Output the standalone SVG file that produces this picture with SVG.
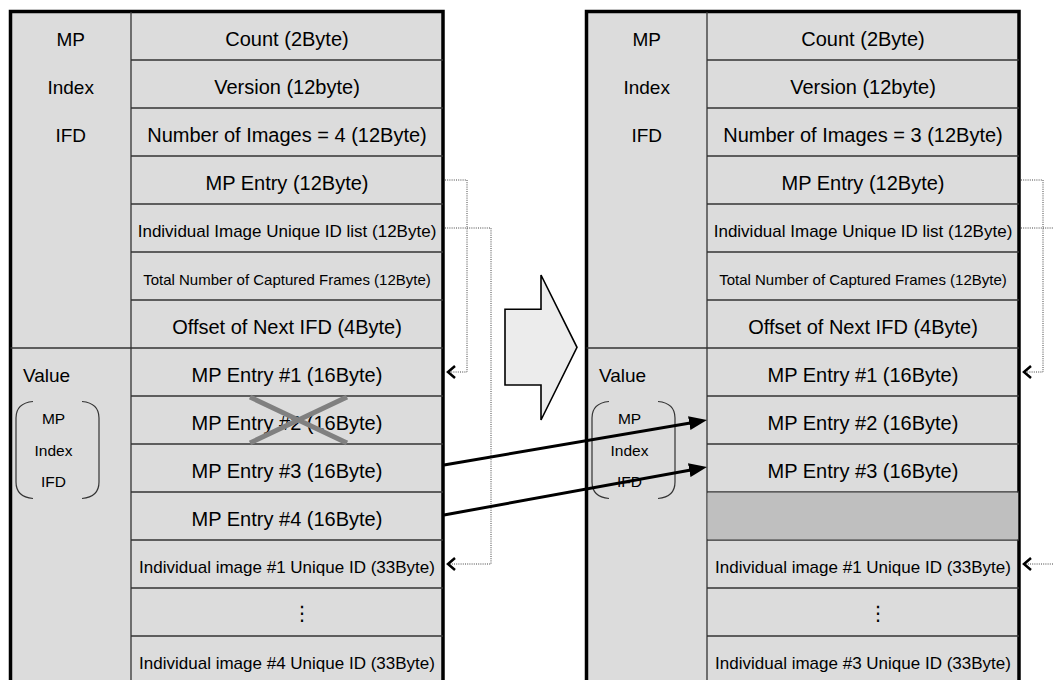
<svg xmlns="http://www.w3.org/2000/svg" width="1054" height="680" viewBox="0 0 1054 680">
<style>
text{font-family:"Liberation Sans",Arial,sans-serif;fill:#000}
.big{font-size:20px;text-anchor:middle}
.mid{font-size:17px;text-anchor:middle}
.sm{font-size:15px;text-anchor:middle}
.lab{font-size:19px;text-anchor:middle}
.blab{font-size:15.5px;text-anchor:middle}
.dots{font-family:"DejaVu Sans",sans-serif;font-size:20px;text-anchor:middle}
.outer{fill:#dcdcdc;stroke:#000;stroke-width:3.5}
.rl{stroke:#333;stroke-width:1.3;fill:none}
.br{stroke:#333;stroke-width:1.2;fill:none}
.dot{stroke:#444;stroke-width:1;stroke-dasharray:1 1.2;fill:none}
.mv{stroke:#000;stroke-width:3;fill:none}
</style>
<defs>
<marker id="chev" markerUnits="userSpaceOnUse" markerWidth="14" markerHeight="16" viewBox="-11 -8 14 16" refX="0" refY="0" orient="auto">
<path d="M-7,-6 L0,0 L-7,6" fill="none" stroke="#000" stroke-width="2.5"/>
</marker>
<marker id="head" markerUnits="userSpaceOnUse" markerWidth="18" markerHeight="14" viewBox="0 0 18 14" refX="10" refY="7" orient="auto">
<path d="M0,0 L18,7 L0,14 z" fill="#000"/>
</marker>
<g id="tableBase">
<rect class="outer" x="10.5" y="11.5" width="432.5" height="700"/>
<path class="rl" d="M131,12 V680 M10.5,348 H131 M131,60 H443 M131,108 H443 M131,156 H443 M131,204 H443 M131,252 H443 M131,300 H443 M131,348 H443 M131,396 H443 M131,444 H443 M131,492 H443 M131,540 H443 M131,588 H443 M131,636 H443"/>
<text class="lab" x="70.7" y="46">MP</text>
<text class="lab" x="70.7" y="94">Index</text>
<text class="lab" x="70.7" y="142">IFD</text>
<text x="23" y="382" style="font-size:19px">Value</text>
<path class="br" d="M33,401.5 Q16,403 16,418 V482 Q16,497 33,498.5 M82,401.5 Q99,403 99,418 V482 Q99,497 82,498.5"/>
<text class="blab" x="53.5" y="423.5">MP</text>
<text class="blab" x="53.5" y="456">Index</text>
<text class="blab" x="53.5" y="486.5">IFD</text>
<text class="big" x="287" y="46">Count (2Byte)</text>
<text class="big" x="287" y="94">Version (12byte)</text>
<text class="big" x="287" y="190">MP Entry (12Byte)</text>
<text class="mid" x="287" y="237">Individual Image Unique ID list (12Byte)</text>
<text class="sm" x="287" y="285">Total Number of Captured Frames (12Byte)</text>
<text class="big" x="287" y="334">Offset of Next IFD (4Byte)</text>
<text class="big" x="287" y="382">MP Entry #1 (16Byte)</text>
<text class="mid" x="287" y="573">Individual image #1 Unique ID (33Byte)</text>
<text class="dots" x="302" y="620">⋮</text>
</g>
</defs>

<g id="before-table">
<use href="#tableBase"/>
<text class="big" x="287" y="142">Number of Images = 4 (12Byte)</text>
<text class="big" x="287" y="430">MP Entry #2 (16Byte)</text>
<text class="big" x="287" y="478">MP Entry #3 (16Byte)</text>
<text class="big" x="287" y="526">MP Entry #4 (16Byte)</text>
<text class="mid" x="287" y="669">Individual image #4 Unique ID (33Byte)</text>
<path d="M250,397 L347,443 M347,397 L250,443" stroke="#808080" stroke-width="5" fill="none"/>
</g>

<g id="transition-arrow">
<polygon points="505,309.3 541,309.3 541,275 577,347.3 541,420 541,385 505,385" fill="#ececec" stroke="#000" stroke-width="1.6" stroke-linejoin="miter"/>
</g>

<g id="after-table" transform="translate(576,0)">
<use href="#tableBase"/>
<rect x="131.7" y="492.7" width="310.6" height="46.6" fill="#bfbfbf"/>
<text class="big" x="287" y="142">Number of Images = 3 (12Byte)</text>
<text class="big" x="287" y="430">MP Entry #2 (16Byte)</text>
<text class="big" x="287" y="478">MP Entry #3 (16Byte)</text>
<text class="mid" x="287" y="669">Individual image #3 Unique ID (33Byte)</text>
</g>

<g id="connectors">
<path class="dot" d="M445,180 H467 V372 H448" marker-end="url(#chev)"/>
<path class="dot" d="M445,228 H491 V564 H448" marker-end="url(#chev)"/>
<path class="dot" d="M1021,180 H1043 V372 H1024" marker-end="url(#chev)"/>
<path class="dot" d="M1021,228 H1067 V564 H1024" marker-end="url(#chev)"/>
<line class="mv" x1="444" y1="465" x2="699.1" y2="421.4" marker-end="url(#head)"/>
<line class="mv" x1="444" y1="515" x2="699.1" y2="468.4" marker-end="url(#head)"/>
</g>
</svg>
